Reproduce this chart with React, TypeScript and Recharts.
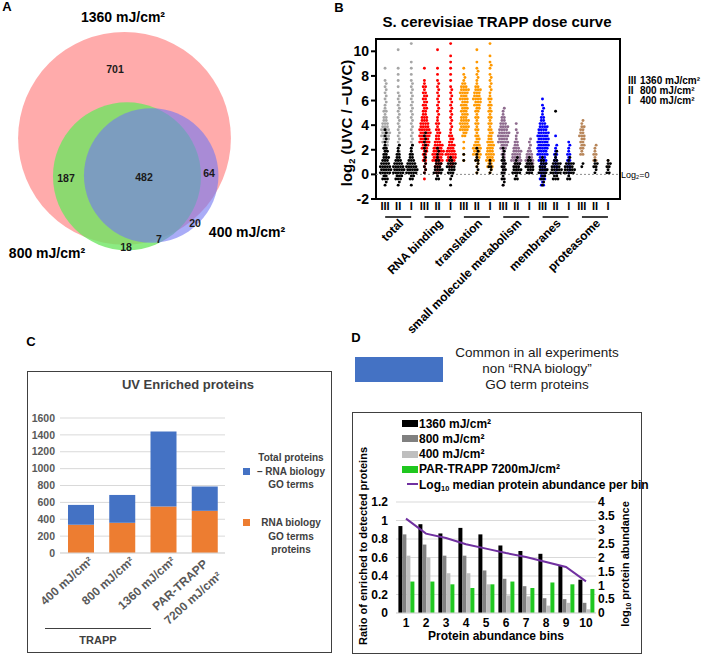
import React from 'react';
import {
  ScatterChart,
  Scatter,
  XAxis,
  YAxis,
  ReferenceArea,
  ReferenceLine,
  BarChart,
  Bar,
  CartesianGrid,
  ComposedChart,
  Line,
} from 'recharts';

const FONT = '"Liberation Sans", Arial, Helvetica, sans-serif';

// ---------- A: Venn of enriched proteins per dose ----------
const VENN_SETS = ['1360 mJ/cm²', '800 mJ/cm²', '400 mJ/cm²'];
const VENN_COUNTS = [701, 187, 482, 64, 20, 7, 18];
// set membership of each region (index into VENN_SETS)
const VENN_MEMBERS = [[0], [0, 1], [0, 1, 2], [0, 2], [2], [1, 2], [1]];

// ---------- B: TRAPP dose curve (dot counts per 0.5 log2 bin, from -1 up) ----------
const B_GROUPS = ['total', 'RNA binding', 'translation', 'small molecule metabolism', 'membranes', 'proteasome'];
const B_DOSES = ['III', 'II', 'I'];
const B_COLORS = ['#a6a6a6', '#ff0000', '#ff9900', '#8e6b8e', '#0000ff', '#b8865a'];

const TOTAL_ENRICHED = [
  [0, 0, 0, 0, 2, 3, 4, 6, 8, 7, 5, 3, 3, 2, 2, 2, 2, 1, 0, 1],
  [0, 0, 0, 0, 1, 2, 2, 2, 2, 2, 2, 2, 2, 2, 2, 1, 1, 1, 1, 1, 0, 0, 1],
  [0, 0, 0, 0, 0, 1, 2, 2, 2, 2, 2, 2, 2, 2, 2, 2, 2, 1, 1, 1, 1, 0, 0, 1],
];
const TOTAL_OTHER = [
  [2, 5, 10, 9, 6, 4, 3, 2, 2, 1],
  [2, 6, 10, 9, 5, 3, 2],
  [1, 4, 10, 9, 5, 3, 2],
];
const RNA_ENRICHED = [
  [0, 1, 2, 2, 3, 4, 6, 9, 10, 9, 7, 5, 4, 4, 4, 3, 3, 1, 0, 1],
  [0, 0, 3, 6, 9, 10, 8, 5, 4, 3, 3, 2, 2, 2, 2, 2, 2, 1, 1, 1, 0, 0, 1],
  [0, 0, 0, 4, 8, 9, 6, 4, 3, 2, 2, 2, 2, 2, 2, 2, 1, 1, 1, 1, 1, 1, 0, 1],
];
const RNA_OTHER = [
  [0, 0, 2, 2, 2, 2, 2, 2, 2],
  [0, 3, 8, 6, 3, 2, 1],
  [1, 2, 6, 8, 3],
];
const TRANSL_ENRICHED = [
  [0, 0, 0, 0, 1, 1, 1, 1, 4, 8, 8, 6, 6, 6, 7, 8, 5, 2, 1, 1],
  [0, 0, 1, 2, 4, 7, 7, 4, 3, 3, 3, 3, 4, 6, 7, 6, 3, 2, 2, 1, 1, 0, 1],
  [0, 0, 2, 5, 7, 7, 6, 5, 4, 3, 3, 3, 3, 3, 3, 2, 2, 2, 1, 2, 1, 1, 0, 1],
];
const TRANSL_OTHER = [
  [0, 0, 0, 0, 1, 1],
  [0, 0, 2, 2, 3, 2, 1],
  [0, 0, 2, 3, 1],
];
const SMALLMOL_ENRICHED = [
  [1, 1, 2, 2, 2, 3, 6, 9, 10, 8, 5, 3, 2],
  [0, 0, 2, 6, 9, 8, 5, 3, 2, 1, 1],
  [0, 0, 2, 6, 7, 5, 2, 2],
];
const SMALLMOL_OTHER = [
  [2, 3, 4, 4, 3, 2, 1],
  [0, 3, 8, 6, 2],
  [0, 0, 6, 7, 3],
];
const MEMBR_ENRICHED = [
  [3, 5, 6, 6, 7, 9, 10, 10, 10, 8, 5, 3, 2, 1, 1],
  [0, 0, 2, 3, 3, 3, 2, 0, 1],
  [0, 0, 2, 3, 3, 3, 2, 1],
];
const MEMBR_OTHER = [
  [2, 4, 8, 6, 3],
  [0, 5, 10, 8, 3, 2, 0, 0, 0, 0, 0, 0, 1],
  [0, 3, 10, 8, 2],
];
const PROTEAS_ENRICHED = [
  [0, 0, 0, 0, 0, 3, 4, 4, 5, 4, 2],
  [0, 0, 0, 1, 3, 3, 2],
  [0, 0, 0, 1, 1],
];
const PROTEAS_OTHER = [
  [0, 0, 0, 2],
  [0, 0, 2, 4, 1],
  [0, 0, 3, 4, 1],
];
const B_ENRICHED = [TOTAL_ENRICHED, RNA_ENRICHED, TRANSL_ENRICHED, SMALLMOL_ENRICHED, MEMBR_ENRICHED, PROTEAS_ENRICHED];
const B_OTHER = [TOTAL_OTHER, RNA_OTHER, TRANSL_OTHER, SMALLMOL_OTHER, MEMBR_OTHER, PROTEAS_OTHER];
const B_TICKS = [-2, 0, 2, 4, 6, 8, 10];

// ---------- C: UV enriched proteins ----------
const C_CATS = ['400 mJ/cm²', '800 mJ/cm²', '1360 mJ/cm²', 'PAR-TRAPP\n7200 mJ/cm²'];
const C_RNA = [335, 358, 552, 500];
const C_OTHER = [235, 330, 888, 288];
const C_TICKS = [0, 200, 400, 600, 800, 1000, 1200, 1400, 1600];

// ---------- D: ratio per abundance bin ----------
const D_BINS = ['1', '2', '3', '4', '5', '6', '7', '8', '9', '10'];
const D_1360 = [0.94, 0.96, 0.86, 0.92, 0.85, 0.73, 0.67, 0.64, 0.51, 0.36];
const D_800 = [0.85, 0.74, 0.62, 0.62, 0.46, 0.37, 0.29, 0.16, 0.15, 0.11];
const D_400 = [0.62, 0.6, 0.43, 0.43, 0.31, 0.19, 0.18, 0.08, 0.11, 0.04];
const D_PAR = [0.34, 0.34, 0.31, 0.27, 0.31, 0.34, 0.27, 0.33, 0.31, 0.26];
const D_ABUND = [3.4, 2.86, 2.7, 2.48, 2.32, 2.16, 2.02, 1.84, 1.66, 1.14];
const D_LEFT_TICKS = [0, 0.2, 0.4, 0.6, 0.8, 1, 1.2];
const D_RIGHT_TICKS = [0, 0.5, 1, 1.5, 2, 2.5, 3, 3.5, 4];

// ---------- layout ----------
const VENN_CENTERS = [[124.5, 138.3], [127, 176.3], [151.2, 175.5]];
const VENN_LABEL_POS = [[115, 69], [66, 178], [144, 177], [209, 173], [195, 223], [159, 239], [126, 247]];
const VENN_STYLE = [
  { fill: 'rgb(255,0,0)', opacity: 0.33 },
  { fill: 'rgb(109,230,97)', opacity: 0.79 },
  { fill: 'rgb(114,120,242)', opacity: 0.61 },
];
const VENN_K = 2.81; // radius px per sqrt(proteins)
const DOT_STEP = 0.18; // horizontal dot spacing, in column units

const setTotals = VENN_SETS.map((_, s) =>
  VENN_COUNTS.reduce((acc, c, i) => (VENN_MEMBERS[i].includes(s) ? acc + c : acc), 0)
);
const vennCircles = VENN_SETS.map((name, s) => ({
  name,
  x: VENN_CENTERS[s][0],
  y: VENN_CENTERS[s][1],
  r: VENN_K * Math.sqrt(setTotals[s]),
}));
const vennLabels = VENN_COUNTS.map((v, i) => ({ x: VENN_LABEL_POS[i][0], y: VENN_LABEL_POS[i][1], v }));

// beeswarm: dots of a bin sit in two staggered sub-rows around the column centre
function swarm(cols: number[][], g: number) {
  const pts: { x: number; y: number }[] = [];
  cols.forEach((counts, d) => {
    const cx = g * 3 + d + 1;
    counts.forEach((n, b) => {
      for (let k = 0; k < n; k++) {
        const row = k % 2;
        const m = row === 0 ? Math.ceil(n / 2) : Math.floor(n / 2);
        const pos = Math.floor(k / 2);
        const stagger = row === 1 && m === Math.ceil(n / 2) ? DOT_STEP / 2 : 0;
        pts.push({
          x: cx + (pos - (m - 1) / 2) * DOT_STEP + stagger,
          y: -1 + b * 0.5 + 0.125 + row * 0.25,
        });
      }
    });
  });
  return pts;
}
const bEnriched = B_ENRICHED.map((cols, g) => swarm(cols, g));
const bOther = B_OTHER.flatMap((cols, g) => swarm(cols, g));

const cData = C_CATS.map((cat, i) => ({ cat, rna: C_RNA[i], other: C_OTHER[i] }));
const dData = D_BINS.map((bin, i) => ({
  bin,
  r1360: D_1360[i],
  r800: D_800[i],
  r400: D_400[i],
  par: D_PAR[i],
  abund: D_ABUND[i],
}));

type TProps = {
  x: number;
  y: number;
  size?: number;
  weight?: number;
  color?: string;
  align?: 'left' | 'center';
  rotate?: number;
  lh?: number;
  children: React.ReactNode;
};
const T = ({ x, y, size = 12, weight = 700, color = '#000', align = 'center', rotate = 0, lh = 1.15, children }: TProps) => (
  <div
    style={{
      position: 'absolute',
      left: x,
      top: y,
      transform: `translate(${align === 'center' ? '-50%' : '0'}, -50%) rotate(${rotate}deg)`,
      fontSize: size,
      fontWeight: weight,
      color,
      whiteSpace: 'nowrap',
      lineHeight: lh,
      fontFamily: FONT,
    }}
  >
    {children}
  </div>
);
const Sub = ({ children }: { children: React.ReactNode }) => (
  <span style={{ fontSize: '0.62em', verticalAlign: '-0.3em', lineHeight: 0 }}>{children}</span>
);

const DoseTick = (props: any) => {
  const { x, y, payload } = props;
  const col = Math.round(payload.value) - 1;
  const g = Math.floor(col / 3);
  const d = col % 3;
  const lx = x + 6;
  const ly = y + 25;
  return (
    <g fontFamily={FONT}>
      <text x={x} y={y + 11} textAnchor="middle" fontSize={11} fontWeight={700} fill="#000">
        {B_DOSES[d]}
      </text>
      {d === 1 && (
        <g>
          <line x1={x - 13} x2={x + 13} y1={y + 18} y2={y + 18} stroke="#000" strokeWidth={1.5} />
          <text
            x={lx}
            y={ly}
            textAnchor="end"
            fontSize={12}
            fontWeight={700}
            fill="#000"
            transform={`rotate(-45 ${lx} ${ly})`}
          >
            {B_GROUPS[g]}
          </text>
        </g>
      )}
    </g>
  );
};

const CTick = (props: any) => {
  const { x, y, payload } = props;
  const lines = String(payload.value).split('\n');
  const anchors = lines.length === 1 ? [[13, 9]] : [[4, 12], [18, 24]];
  return (
    <g fontFamily={FONT}>
      {lines.map((ln, i) => {
        const ax = x + anchors[i][0];
        const ay = y + anchors[i][1];
        return (
          <text
            key={i}
            x={ax}
            y={ay}
            textAnchor="end"
            fontSize={12}
            fontWeight={700}
            fill="#595959"
            transform={`rotate(-42 ${ax} ${ay})`}
          >
            {ln}
          </text>
        );
      })}
    </g>
  );
};

const D_LEGEND = [
  { label: '1360 mJ/cm²', color: '#000000', line: false },
  { label: '800 mJ/cm²', color: '#808080', line: false },
  { label: '400 mJ/cm²', color: '#bfbfbf', line: false },
  { label: 'PAR-TRAPP 7200mJ/cm²', color: '#1fc71f', line: false },
  { label: 'abund', color: '#7030a0', line: true },
];

export default function App() {
  return (
    <div
      style={{
        position: 'absolute',
        left: 0,
        top: 0,
        width: 709,
        height: 654,
        background: '#fff',
        overflow: 'hidden',
        fontFamily: FONT,
      }}
    >
      {/* ---------------- A ---------------- */}
      <div style={{ position: 'absolute', left: 0, top: 0 }}>
        <ScatterChart width={300} height={270} margin={{ top: 0, right: 0, bottom: 0, left: 0 }}>
          <XAxis type="number" dataKey="x" domain={[0, 300]} hide />
          <YAxis type="number" dataKey="y" domain={[0, 270]} reversed hide />
          {vennCircles.map((c, s) => (
            <Scatter
              key={c.name}
              data={[c]}
              isAnimationActive={false}
              shape={(p: any) => (
                <circle
                  cx={p.cx}
                  cy={p.cy}
                  r={p.payload.r}
                  fill={VENN_STYLE[s].fill}
                  fillOpacity={VENN_STYLE[s].opacity}
                />
              )}
            />
          ))}
          <Scatter
            data={vennLabels}
            isAnimationActive={false}
            shape={(p: any) => (
              <text
                x={p.cx}
                y={p.cy}
                dy="0.35em"
                textAnchor="middle"
                fontSize={10.5}
                fontWeight={700}
                fill="#1a1a1a"
                fontFamily={FONT}
              >
                {p.payload.v}
              </text>
            )}
          />
        </ScatterChart>
      </div>
      <T x={7} y={7} size={13}>A</T>
      <T x={123} y={17} size={14}>{VENN_SETS[0]}</T>
      <T x={47} y={253} size={14}>{VENN_SETS[1]}</T>
      <T x={247} y={232} size={14}>{VENN_SETS[2]}</T>

      {/* ---------------- B ---------------- */}
      <div style={{ position: 'absolute', left: 300, top: 0 }}>
        <ScatterChart width={409} height={340} margin={{ top: 39, right: 89, bottom: 121, left: 46 }}>
          <XAxis
            type="number"
            dataKey="x"
            domain={[0.31, 18.91]}
            ticks={[1, 2, 3, 4, 5, 6, 7, 8, 9, 10, 11, 12, 13, 14, 15, 16, 17, 18]}
            interval={0}
            tick={(p: any) => <DoseTick {...p} />}
            tickLine={false}
            axisLine={false}
            tickSize={0}
            tickMargin={0}
            height={20}
            allowDataOverflow
          />
          <YAxis
            type="number"
            dataKey="y"
            domain={[-2, 11]}
            ticks={B_TICKS}
            interval={0}
            width={30}
            tickSize={5}
            tickMargin={2}
            tickLine={{ stroke: '#000', strokeWidth: 2 }}
            axisLine={false}
            tick={{ fill: '#000', fontSize: 14, fontWeight: 700, fontFamily: FONT }}
            allowDataOverflow
          />
          <ReferenceLine y={0} stroke="#8a8a8a" strokeDasharray="2 2" strokeWidth={1} />
          {bEnriched.map((pts, g) => (
            <Scatter
              key={B_GROUPS[g]}
              data={pts}
              isAnimationActive={false}
              shape={(p: any) => <circle cx={p.cx} cy={p.cy} r={1.45} fill={B_COLORS[g]} />}
            />
          ))}
          <Scatter
            data={bOther}
            isAnimationActive={false}
            shape={(p: any) => <circle cx={p.cx} cy={p.cy} r={1.45} fill="#000" />}
          />
          <ReferenceArea
            x1={0.31}
            x2={18.91}
            y1={-2}
            y2={11}
            fill="none"
            fillOpacity={0}
            stroke="#000"
            strokeWidth={2}
          />
        </ScatterChart>
      </div>
      <T x={339} y={8} size={13}>B</T>
      <T x={497} y={22} size={15}>S. cerevisiae TRAPP dose curve</T>
      <T x={347} y={123} size={15} rotate={-90}>
        log<Sub>2</Sub> (UVC / −UVC)
      </T>
      <T x={621} y={175} size={9} weight={400} align="left" lh={1}>
        Log<Sub>2</Sub>=0
      </T>
      {[
        ['III', '1360 mJ/cm²'],
        ['II', '800 mJ/cm²'],
        ['I', '400 mJ/cm²'],
      ].map(([r, v], i) => (
        <T key={r} x={628} y={81 + i * 10} size={10} align="left" lh={0.95}>
          <span style={{ display: 'inline-block', width: 12 }}>{r}</span>
          {v}
        </T>
      ))}

      {/* ---------------- C ---------------- */}
      <T x={31} y={342} size={13}>C</T>
      <div
        style={{
          position: 'absolute',
          left: 27,
          top: 371,
          width: 305,
          height: 282,
          border: '1.5px solid #404040',
          boxSizing: 'border-box',
        }}
      />
      <div style={{ position: 'absolute', left: 27, top: 371 }}>
        <BarChart
          width={305}
          height={282}
          data={cData}
          margin={{ top: 47, right: 107, bottom: 0, left: 3 }}
          barSize={26}
        >
          <CartesianGrid vertical={false} stroke="#d9d9d9" />
          <XAxis
            dataKey="cat"
            interval={0}
            height={100}
            tickLine={false}
            tickSize={0}
            tickMargin={0}
            axisLine={{ stroke: '#d9d9d9' }}
            tick={(p: any) => <CTick {...p} />}
          />
          <YAxis
            domain={[0, 1600]}
            ticks={C_TICKS}
            interval={0}
            width={30}
            tickLine={false}
            axisLine={false}
            tickSize={0}
            tickMargin={5}
            tick={{ fill: '#595959', fontSize: 10.5, fontWeight: 700, fontFamily: FONT }}
          />
          <Bar dataKey="rna" stackId="a" fill="#ed7d31" isAnimationActive={false} />
          <Bar dataKey="other" stackId="a" fill="#4472c4" isAnimationActive={false} />
        </BarChart>
      </div>
      <T x={188} y={385} size={13} color="#404040">UV Enriched proteins</T>
      <div style={{ position: 'absolute', left: 243, top: 468, width: 7, height: 7, background: '#4472c4' }} />
      {['Total proteins', '– RNA biology', 'GO terms'].map((ln, i) => (
        <T key={ln} x={291} y={458 + i * 13.5} size={10} color="#404040" lh={1}>{ln}</T>
      ))}
      <div style={{ position: 'absolute', left: 243, top: 519, width: 7, height: 7, background: '#ed7d31' }} />
      {['RNA biology', 'GO terms', 'proteins'].map((ln, i) => (
        <T key={ln} x={291} y={523 + i * 13.5} size={10} color="#404040" lh={1}>{ln}</T>
      ))}
      <div style={{ position: 'absolute', left: 45, top: 628, width: 106, height: 1, background: '#404040' }} />
      <T x={98} y={640} size={11} color="#404040">TRAPP</T>

      {/* ---------------- D ---------------- */}
      <T x={356} y={338} size={13}>D</T>
      <div style={{ position: 'absolute', left: 355, top: 357, width: 88, height: 25, background: '#4472c4' }} />
      {['Common in all experiments', 'non “RNA biology”', 'GO term proteins'].map((ln, i) => (
        <T key={ln} x={537} y={353 + i * 16} size={13.5} weight={400} color="#1a1a1a">{ln}</T>
      ))}
      <div
        style={{
          position: 'absolute',
          left: 352,
          top: 412,
          width: 290,
          height: 242,
          border: '1.5px solid #404040',
          boxSizing: 'border-box',
        }}
      />
      <div style={{ position: 'absolute', left: 352, top: 412 }}>
        <ComposedChart
          width={290}
          height={242}
          data={dData}
          margin={{ top: 90, right: 16, bottom: 0, left: 14 }}
          barGap={0}
          barCategoryGap="12%"
        >
          <CartesianGrid vertical={false} stroke="#d9d9d9" yAxisId="left" />
          <XAxis
            dataKey="bin"
            interval={0}
            height={41}
            tickLine={false}
            tickSize={0}
            tickMargin={5}
            axisLine={{ stroke: '#d9d9d9' }}
            tick={{ fill: '#000', fontSize: 12, fontWeight: 700, fontFamily: FONT }}
          />
          <YAxis
            yAxisId="left"
            domain={[0, 1.2]}
            ticks={D_LEFT_TICKS}
            interval={0}
            width={30}
            tickLine={false}
            axisLine={false}
            tickSize={0}
            tickMargin={8}
            tick={{ fill: '#000', fontSize: 12, fontWeight: 700, fontFamily: FONT }}
          />
          <YAxis
            yAxisId="right"
            orientation="right"
            domain={[0, 4]}
            ticks={D_RIGHT_TICKS}
            interval={0}
            width={30}
            tickLine={false}
            axisLine={false}
            tickSize={0}
            tickMargin={2}
            tick={{ fill: '#000', fontSize: 12, fontWeight: 700, fontFamily: FONT }}
          />
          <Bar yAxisId="left" dataKey="r1360" fill="#000000" isAnimationActive={false} />
          <Bar yAxisId="left" dataKey="r800" fill="#808080" isAnimationActive={false} />
          <Bar yAxisId="left" dataKey="r400" fill="#bfbfbf" isAnimationActive={false} />
          <Bar yAxisId="left" dataKey="par" fill="#1fc71f" isAnimationActive={false} />
          <Line
            yAxisId="right"
            dataKey="abund"
            stroke="#7030a0"
            strokeWidth={2}
            dot={false}
            isAnimationActive={false}
          />
        </ComposedChart>
      </div>
      {D_LEGEND.map((it, i) => (
        <React.Fragment key={it.label}>
          {it.line ? (
            <div style={{ position: 'absolute', left: 407, top: 483, width: 11, height: 2, background: it.color }} />
          ) : (
            <div
              style={{ position: 'absolute', left: 402, top: 420 + i * 15.3, width: 16, height: 7, background: it.color }}
            />
          )}
          <T x={419} y={423.5 + i * 15.3} size={12} align="left" lh={1}>
            {it.line ? (
              <>
                Log<Sub>10</Sub> median protein abundance per bin
              </>
            ) : (
              it.label
            )}
          </T>
        </React.Fragment>
      ))}
      <T x={363} y={546} size={11} rotate={-90}>Ratio of enriched to detected proteins</T>
      <T x={625} y={564} size={11} rotate={-90}>
        log<Sub>10</Sub> protein abundance
      </T>
      <T x={496} y={637} size={12}>Protein abundance bins</T>
    </div>
  );
}
